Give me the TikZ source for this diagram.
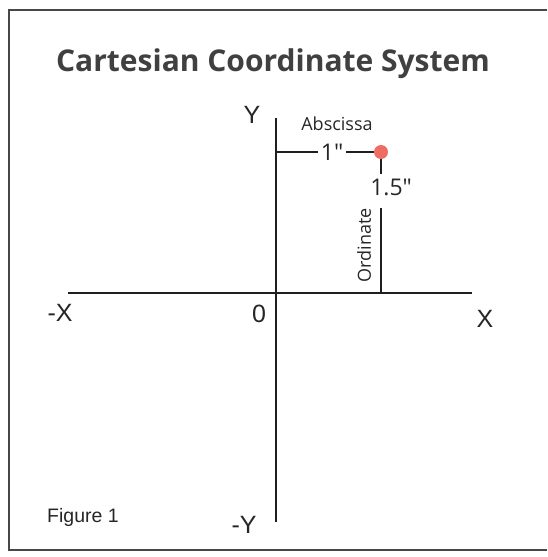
\documentclass[tikz,border=0pt]{standalone}
\usepackage{fontspec}
\setsansfont{Open Sans}
\newfontfamily\axisfont{Liberation Sans}
\usetikzlibrary{calc,positioning}

\definecolor{dotred}{RGB}{238,108,98}

\tikzset{
  axis/.style={line width=2pt, draw=black!88},
  axlbl/.style={font=\axisfont\fontsize{25}{28}\selectfont, text=black!85, inner sep=0pt},
  dimlbl/.style={font=\sffamily\fontsize{23}{26}\selectfont, text=black!85, inner sep=3pt},
  dot/.style={circle, fill=dotred, minimum size=14pt, inner sep=0pt}
}

\begin{document}
\begin{tikzpicture}[x=1pt,y=-1pt]
	\useasboundingbox (0,0) rectangle (547,557);
	% frame, open on the right
	\draw[line width=1.5pt, draw=black!72] (547,10) -- (9,10) -- (9,550) -- (547,550);

	\node[font=\sffamily\bfseries\fontsize{30}{34}\selectfont, text=black!75] (title) at (273,64) {Cartesian Coordinate System};

	\coordinate (xneg) at (68,293);
	\coordinate (xpos) at (472,293);
	\coordinate (ytop) at (276,118);
	\coordinate (ybot) at (276,522);

	\draw[axis] (xneg) -- (xpos);
	\draw[axis] (ytop) -- (ybot);

	\node[axlbl] (ylbl) at (252,115) {Y};
	\node[axlbl] (ynlbl) at (244,525) {-Y};
	\node[axlbl] (xnlbl) at (60,313) {-X};
	\node[axlbl] (xlbl) at (485,319) {X};
	\node[axlbl] (olbl) at (259,314) {0};

	\node[dot] (pt) at (381,152) {};
	\coordinate (abs0) at (ytop |- pt);
	\node[dimlbl] (absval) at (332,152) {1″};
	\node[dimlbl, inner sep=0pt, font=\sffamily\fontsize{18}{21}\selectfont] (abslbl) at (337,124) {Abscissa};
	\draw[axis] (abs0) -- (absval);
	\draw[axis] (absval) -- (pt);

	\node[dimlbl, inner sep=0pt] (ordval) at (391,187) {1.5″};
	\draw[axis] (pt) -- ($(pt |- ordval.north)+(0,-4)$);

	\coordinate (ordtop) at (381,208);
	\coordinate (ordfoot) at (ordtop |- xneg);
	\draw[axis] (ordtop) -- (ordfoot);
	\node[dimlbl, inner sep=0pt, rotate=90, font=\sffamily\fontsize{18}{21}\selectfont] (ordlbl) at (364,245) {Ordinate};

	\node[font=\axisfont\fontsize{19.5}{22}\selectfont, text=black!85] (fig) at (83,517) {Figure 1};
\end{tikzpicture}
\end{document}
